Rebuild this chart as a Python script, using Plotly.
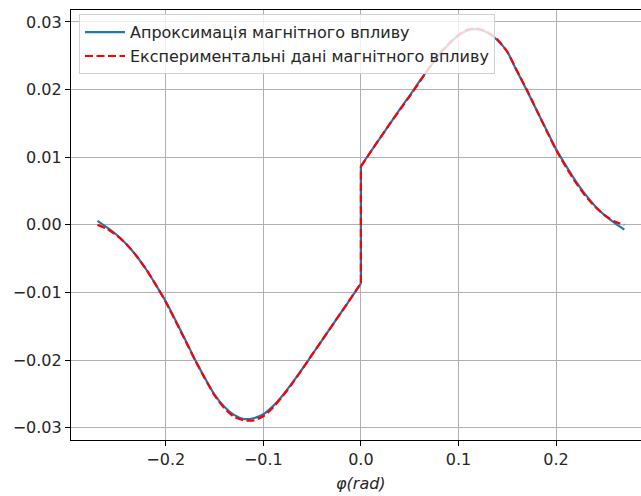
import plotly.graph_objects as go

phi_neg = [-0.27, -0.26, -0.25, -0.24, -0.23, -0.22, -0.21, -0.20, -0.19, -0.18,
           -0.17, -0.16, -0.15, -0.14, -0.13, -0.12, -0.11, -0.10, -0.09, -0.08,
           -0.07, -0.06, -0.05, -0.04, -0.03, -0.02, -0.01, 0.0]
phi_pos = [0.0, 0.01, 0.02, 0.03, 0.04, 0.05, 0.06, 0.07, 0.08, 0.09,
           0.10, 0.11, 0.12, 0.13, 0.14, 0.15, 0.16, 0.17, 0.18, 0.19,
           0.20, 0.21, 0.22, 0.23, 0.24, 0.25, 0.26, 0.27]

approx_neg = [0.0006, -0.0004, -0.0015, -0.0029, -0.0046, -0.0066, -0.0089, -0.0113, -0.0141, -0.0170,
              -0.0199, -0.0226, -0.0251, -0.0269, -0.0281, -0.0287, -0.0286, -0.0280, -0.0268, -0.0252,
              -0.0233, -0.0213, -0.0192, -0.0171, -0.0150, -0.0129, -0.0108, -0.0087]
approx_pos = [0.0087, 0.0108, 0.0129, 0.0150, 0.0171, 0.0191, 0.0212, 0.0232, 0.0251, 0.0267,
              0.0280, 0.0288, 0.0289, 0.0284, 0.0273, 0.0256, 0.0227, 0.0199, 0.0170, 0.0141,
              0.0112, 0.0088, 0.0065, 0.0045, 0.0028, 0.0014, 0.0003, -0.0007]

exp_neg = [0.0000, -0.0006, -0.0016, -0.0029, -0.0046, -0.0066, -0.0089, -0.0114, -0.0142, -0.0171,
           -0.0200, -0.0227, -0.0252, -0.0271, -0.0284, -0.0289, -0.0289, -0.0283, -0.0270, -0.0253,
           -0.0234, -0.0213, -0.0192, -0.0171, -0.0150, -0.0129, -0.0108, -0.0086]
exp_pos = [0.0086, 0.0108, 0.0129, 0.0150, 0.0170, 0.0190, 0.0211, 0.0232, 0.0252, 0.0268,
           0.0281, 0.0289, 0.0290, 0.0285, 0.0274, 0.0256, 0.0228, 0.0200, 0.0170, 0.0140,
           0.0111, 0.0086, 0.0063, 0.0043, 0.0027, 0.0014, 0.0005, 0.0000]

x_ticks = [-0.2, -0.1, 0.0, 0.1, 0.2]
x_ticktext = ["\u22120.2", "\u22120.1", "0.0", "0.1", "0.2"]
y_ticks = [-0.03, -0.02, -0.01, 0.0, 0.01, 0.02, 0.03]
y_ticktext = ["\u22120.03", "\u22120.02", "\u22120.01", "0.00", "0.01", "0.02", "0.03"]

name_approx = "Апроксимація магнітного впливу"
name_exp = "Експериментальні дані магнітного впливу"
x_title = "<i>φ(rad)</i>"

font = "DejaVu Sans"
fs = 16
tc = "#262626"

fig = go.Figure()


def add_series(xn, yn, xp, yp, name, group, line):
    # smooth negative branch, straight jump at φ = 0, smooth positive branch
    fig.add_trace(go.Scatter(x=xn, y=yn, mode="lines", name=name, legendgroup=group,
                             showlegend=True, line=dict(shape="spline", smoothing=0.6, **line)))
    fig.add_trace(go.Scatter(x=[xn[-1], xp[0]], y=[yn[-1], yp[0]], mode="lines", name=name,
                             legendgroup=group, showlegend=False, line=dict(**line)))
    fig.add_trace(go.Scatter(x=xp, y=yp, mode="lines", name=name, legendgroup=group,
                             showlegend=False, line=dict(shape="spline", smoothing=0.6, **line)))


add_series(phi_neg, approx_neg, phi_pos, approx_pos, name_approx, "a",
           dict(color="#1f77b4", width=2.2))
add_series(phi_neg, exp_neg, phi_pos, exp_pos, name_exp, "b",
           dict(color="#ff0000", width=2.2, dash="8px,3.5px"))

fig.update_layout(
    width=641, height=496,
    margin=dict(l=71, r=0, t=10, b=56),
    paper_bgcolor="white", plot_bgcolor="white",
    font=dict(family=font, size=fs, color=tc),
    showlegend=True,
    legend=dict(x=0.014, y=0.99, xanchor="left", yanchor="top",
                bgcolor="rgba(255,255,255,0.8)", bordercolor="#d0d0d0", borderwidth=1,
                font=dict(family=font, size=fs, color=tc),
                itemwidth=40, tracegroupgap=0),
    xaxis=dict(range=[-0.2971, 0.2871], tickvals=x_ticks, ticktext=x_ticktext,
               showgrid=True, gridcolor="#b0b0b0", gridwidth=1.1,
               showline=True, linecolor="#000000", linewidth=1.2, mirror=True,
               ticks="outside", ticklen=5, tickwidth=1.2, tickcolor="#000000",
               zeroline=False, tickfont=dict(family=font, size=fs, color=tc)),
    yaxis=dict(range=[-0.03181, 0.03177], tickvals=y_ticks, ticktext=y_ticktext,
               showgrid=True, gridcolor="#b0b0b0", gridwidth=1.1,
               showline=True, linecolor="#000000", linewidth=1.2,
               ticks="outside", ticklen=5, tickwidth=1.2, tickcolor="#000000",
               zeroline=False, tickfont=dict(family=font, size=fs, color=tc)),
    annotations=[dict(text=x_title, x=0.0, xref="x", y=-0.1, yref="paper",
                      xanchor="center", yanchor="middle", showarrow=False,
                      font=dict(family=font, size=fs, color=tc))],
)

fig.write_html("out.html")
